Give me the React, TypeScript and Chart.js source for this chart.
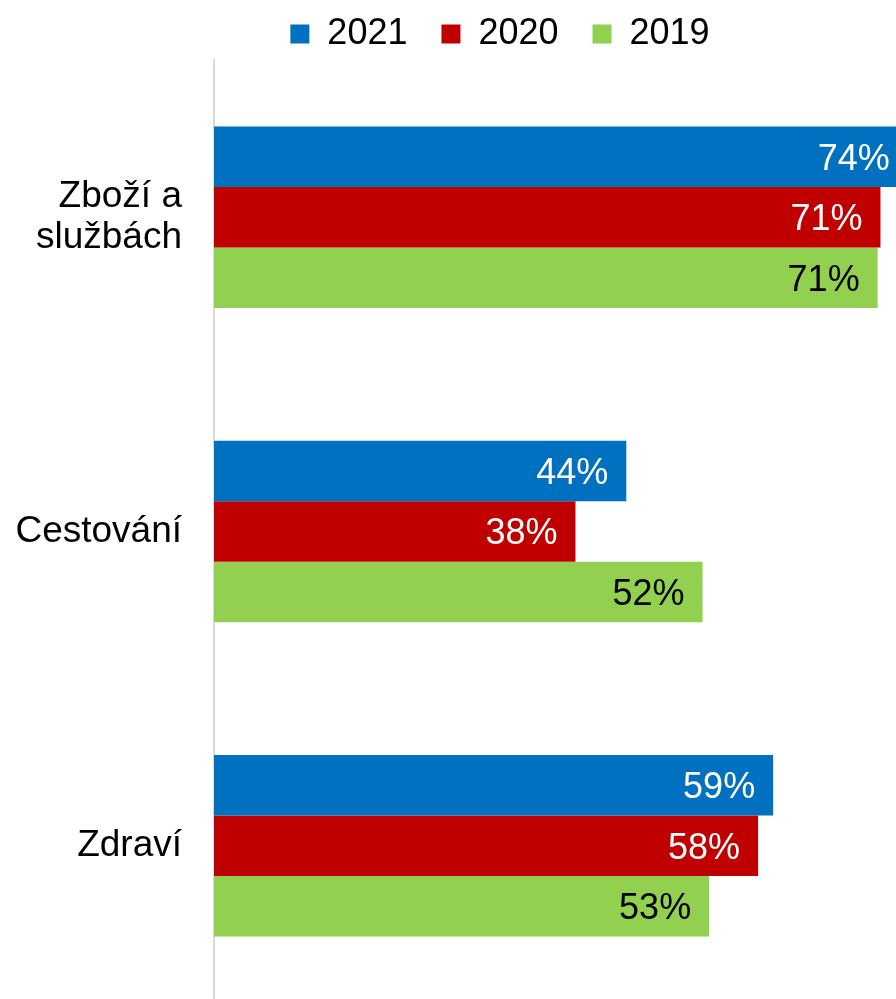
import React, { useEffect, useRef } from "react";
import { Chart, registerables } from "chart.js";

Chart.register(...registerables);

const categories: (string | string[])[] = [["Zboží a", "službách"], "Cestování", "Zdraví"];
const seriesNames = ["2021", "2020", "2019"];
const values2021 = [73.7, 43.8, 59.4];
const values2020 = [70.8, 38.4, 57.8];
const values2019 = [70.5, 51.9, 52.6];
const seriesColors = ["#0070C0", "#C00000", "#92D050"];
const labelColors = ["#FFFFFF", "#FFFFFF", "#000000"];

const FONT = "'Liberation Sans', Arial, sans-serif";

const valueLabels = {
  id: "valueLabels",
  afterDatasetsDraw(chart: any) {
    const ctx = chart.ctx;
    ctx.save();
    ctx.font = `36px ${FONT}`;
    ctx.textAlign = "right";
    ctx.textBaseline = "middle";
    chart.data.datasets.forEach((ds: any, i: number) => {
      const meta = chart.getDatasetMeta(i);
      ctx.fillStyle = labelColors[i];
      meta.data.forEach((el: any, j: number) => {
        const v = ds.data[j];
        ctx.fillText(`${Math.round(v)}%`, el.x - 18, el.y + 3);
      });
    });
    ctx.restore();
  },
};

const legendShift = {
  id: "legendShift",
  afterLayout(chart: any) {
    if (chart.legend) {
      chart.legend.left += 52;
      chart.legend.right += 52;
      chart.legend.top += 2;
      chart.legend.bottom += 2;
    }
  },
};

export default function App() {
  const ref = useRef<HTMLCanvasElement>(null);
  useEffect(() => {
    if (!ref.current) return;
    const chart = new Chart(ref.current, {
      type: "bar",
      data: {
        labels: categories,
        datasets: [values2021, values2020, values2019].map((d, i) => ({
          label: seriesNames[i],
          data: d,
          backgroundColor: seriesColors[i],
          borderWidth: 0,
          categoryPercentage: 0.5775,
          barPercentage: 1,
        })),
      },
      options: {
        indexAxis: "y",
        responsive: false,
        animation: false,
        devicePixelRatio: 1,
        layout: { padding: { top: -20, bottom: 0, left: 0, right: 0 } },
        plugins: {
          tooltip: { enabled: false },
          legend: {
            position: "top",
            labels: {
              boxWidth: 19,
              boxHeight: 19,
              padding: 34,
              color: "#000",
              font: { size: 36, family: FONT },
            },
          },
        },
        scales: {
          x: { display: false, min: 0, max: 72.45 },
          y: {
            grid: { display: false, drawTicks: false },
            border: { display: true, color: "#D9D9D9", width: 2 },
            ticks: {
              color: "#000",
              padding: 32,
              font: { size: 37, family: FONT, lineHeight: 1.1 },
            },
            afterFit(scale: any) {
              scale.width = 214;
              scale.paddingTop = 0;
              scale.paddingBottom = 0;
            },
          },
        },
      },
      plugins: [valueLabels, legendShift],
    });
    return () => chart.destroy();
  }, []);
  return (
    <div style={{ position: "fixed", left: 0, top: 0, width: 896, height: 1003, background: "#fff", overflow: "hidden" }}>
      <canvas ref={ref} width={896} height={1003} style={{ display: "block" }} />
    </div>
  );
}
